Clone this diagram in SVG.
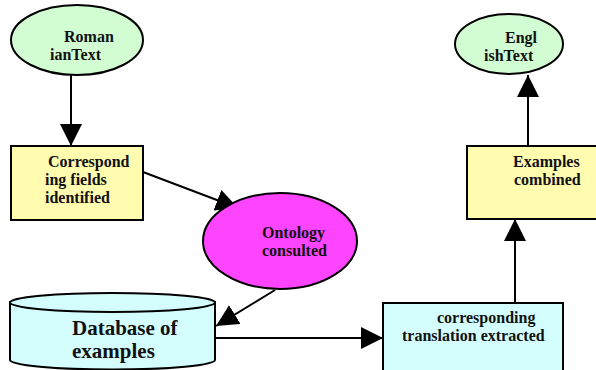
<svg xmlns="http://www.w3.org/2000/svg" width="596" height="370" viewBox="0 0 596 370">
<style>
.n{stroke:#000;stroke-width:2}
.t{font-family:"Liberation Serif","Times New Roman",serif;font-weight:bold;font-size:16px;fill:#111}
.big{font-size:21px}
.green{fill:#d2fcd2}
.yellow{fill:#fffcb0}
.cyan{fill:#d4fefe}
.mag{fill:#ff44ff}
.c{stroke:#000;stroke-width:2;fill:none;marker-end:url(#ah)}
</style>
<defs>
<marker id="ah" markerUnits="userSpaceOnUse" markerWidth="22" markerHeight="22" viewBox="0 0 20 20" refX="20" refY="10" orient="auto">
<path d="M0,0 L20,10 L0,20 Z" fill="#000"/>
</marker>
</defs>
<rect width="596" height="370" fill="#fff"/>
<g id="connectors">
<line class="c" x1="71" y1="75" x2="71" y2="146"/>
<line class="c" x1="143" y1="172" x2="238" y2="208"/>
<line class="c" x1="275" y1="290" x2="216" y2="326"/>
<line class="c" x1="215" y1="338" x2="383" y2="338"/>
<line class="c" x1="515" y1="303" x2="515" y2="219"/>
<line class="c" x1="528" y1="146" x2="528" y2="75"/>
</g>
<g id="roman">
<ellipse class="n green" cx="77" cy="40" rx="66" ry="35"/>
<text class="t" x="64" y="42">Roman</text>
<text class="t" x="50" y="60">ianText</text>
</g>
<g id="corresponding">
<rect class="n yellow" x="11" y="146" width="132" height="74"/>
<text class="t" x="48" y="167">Correspond</text>
<text class="t" x="45" y="185">ing fields</text>
<text class="t" x="45" y="203">identified</text>
</g>
<g id="ontology">
<ellipse class="n mag" cx="280" cy="241" rx="77" ry="48"/>
<text class="t" x="262" y="238">Ontology</text>
<text class="t" x="262" y="256">consulted</text>
</g>
<g id="database">
<path class="n cyan" d="M10,302 L10,360 A102.5,9.5 0 0 0 215,360 L215,302 Z"/>
<ellipse class="n cyan" cx="112.5" cy="302.5" rx="102.5" ry="9.5"/>
<text class="t big" x="72" y="335">Database of</text>
<text class="t big" x="72" y="358">examples</text>
</g>
<g id="extracted">
<rect class="n cyan" x="383" y="303" width="180" height="80"/>
<text class="t" x="437" y="323">corresponding</text>
<text class="t" x="402" y="341">translation extracted</text>
</g>
<g id="examples">
<rect class="n yellow" x="467" y="146" width="170" height="73"/>
<text class="t" x="513" y="167">Examples</text>
<text class="t" x="514" y="185">combined</text>
</g>
<g id="english">
<ellipse class="n green" cx="509" cy="44" rx="54" ry="30"/>
<text class="t" x="505" y="43">Engl</text>
<text class="t" x="484" y="61">ishText</text>
</g>
</svg>
